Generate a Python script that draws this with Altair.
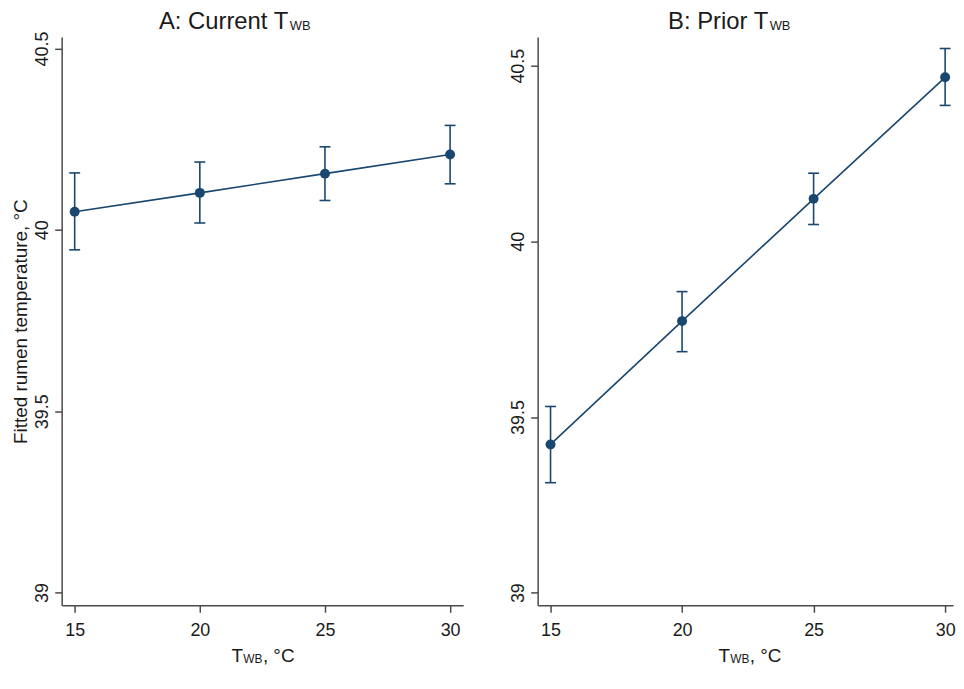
import altair as alt
import pandas as pd

# ---- data ----
temp = [15, 20, 25, 30]
x_ticks = [15, 20, 25, 30]
y_ticks = [39, 39.5, 40, 40.5]

current_fit = [40.050, 40.102, 40.155, 40.208]
current_lo = [39.945, 40.019, 40.081, 40.127]
current_hi = [40.157, 40.187, 40.229, 40.288]

prior_fit = [39.422, 39.773, 40.121, 40.467]
prior_lo = [39.313, 39.686, 40.048, 40.387]
prior_hi = [39.530, 39.857, 40.194, 40.549]

title_a = "A: Current T"
title_b = "B: Prior T"
sub_wb = "WB"
x_title_tail = ", °C"
y_title = "Fitted rumen temperature, °C"

NAVY = "#1a476f"
AXIS = "#4a4a4a"
TEXT = "#1a1a1a"
FONT = "Liberation Sans"
H = 572


def text_layer(s, x, y, size, align):
    return alt.Chart(pd.DataFrame({"s": [s]})).mark_text(
        align=align, baseline="alphabetic", fontSize=size, font=FONT, color=TEXT
    ).encode(x=alt.value(x), y=alt.value(y), text="s:N")


def panel(fit, lo, hi, width, xdom, ydom, ytitle, tmain, tmain_x, xt_start):
    df = pd.DataFrame({"temp": temp, "fit": fit, "lo": lo, "hi": hi})
    base = alt.Chart(df)
    x_axis = alt.Axis(
        values=x_ticks, title=None, grid=False, labelFontSize=18, labelFont=FONT,
        labelColor=TEXT, tickSize=7, tickWidth=1.5, tickColor=AXIS, domainColor=AXIS,
        domainWidth=1.5, labelPadding=9, labelFlush=False,
    )
    y_kwargs = dict(
        values=y_ticks, format="~g", grid=False, labelFontSize=18, labelFont=FONT,
        labelColor=TEXT, tickSize=7, tickWidth=1.5, tickColor=AXIS, domainColor=AXIS,
        domainWidth=1.5, labelPadding=7, labelAngle=270, labelAlign="center",
        labelBaseline="alphabetic",
    )
    if ytitle:
        y_axis = alt.Axis(
            title=ytitle, titleFont=FONT, titleFontSize=19, titleFontWeight="normal",
            titleColor=TEXT, titleAngle=270, titleAlign="center",
            titleBaseline="alphabetic", titleX=-35, titleY=H / 2, **y_kwargs,
        )
    else:
        y_axis = alt.Axis(title=None, **y_kwargs)

    x = alt.X("temp:Q", scale=alt.Scale(domain=xdom, nice=False, zero=False), axis=x_axis)
    y = alt.Y("fit:Q", scale=alt.Scale(domain=ydom, nice=False, zero=False), axis=y_axis)

    line = base.mark_line(color=NAVY, strokeWidth=1.6).encode(x=x, y=y)
    bars = base.mark_rule(color=NAVY, strokeWidth=1.6).encode(
        x="temp:Q", y="lo:Q", y2="hi:Q")
    cap_lo = base.mark_tick(orient="horizontal", color=NAVY, size=11, thickness=1.6,
                            opacity=1).encode(x="temp:Q", y="lo:Q")
    cap_hi = base.mark_tick(orient="horizontal", color=NAVY, size=11, thickness=1.6,
                            opacity=1).encode(x="temp:Q", y="hi:Q")
    pts = base.mark_circle(size=100, color=NAVY, opacity=1).encode(x="temp:Q", y="fit:Q")

    texts = [
        text_layer(tmain, tmain_x, -8, 24, "right"),
        text_layer(sub_wb, tmain_x + 1.5, -6.5, 13, "left"),
        text_layer("T", xt_start, H + 57, 19, "left"),
        text_layer(sub_wb, xt_start + 11.8, H + 58, 12, "left"),
        text_layer(x_title_tail, xt_start + 31.5, H + 57, 19, "left"),
    ]
    return alt.layer(line, bars, cap_lo, cap_hi, pts, *texts).properties(
        width=width, height=H)


left = panel(current_fit, current_lo, current_hi, 404, [14.48, 30.52],
             [38.965, 40.532], y_title, title_a, 228, 171)
right = panel(prior_fit, prior_lo, prior_hi, 418, [14.51, 30.3],
              [38.964, 40.582], None, title_b, 232, 182)

chart = alt.hconcat(left, right, spacing=47).properties(
    padding={"left": 4, "top": 0, "right": 0, "bottom": 0},
    background="white",
).configure_view(stroke=None)

chart.save("out.html", embed_options={"renderer": "svg", "actions": False})
